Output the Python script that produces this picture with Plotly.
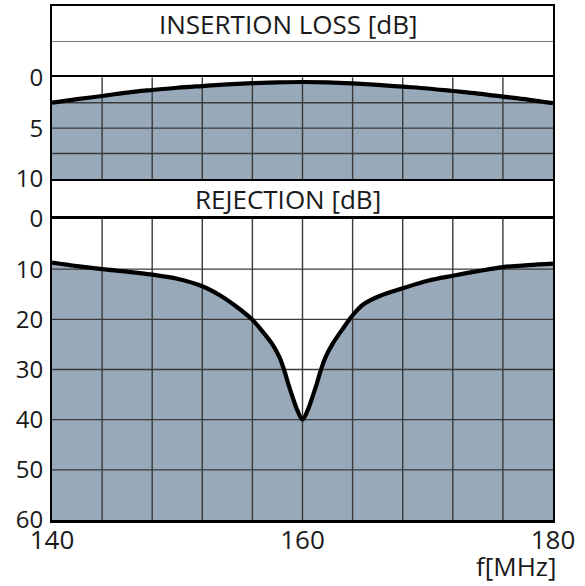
import plotly.graph_objects as go
from plotly.subplots import make_subplots

# ---- data ----
freq_il = [140, 142, 144, 146, 148, 150, 152, 154, 156, 158, 160,
           162, 164, 166, 168, 170, 172, 174, 176, 178, 180]
insertion_loss = [2.5, 2.15, 1.84, 1.5, 1.25, 1.03, 0.86, 0.7, 0.58, 0.5, 0.46,
                  0.5, 0.6, 0.74, 0.92, 1.1, 1.35, 1.6, 1.9, 2.2, 2.55]

freq_rej = [140, 142, 144, 146, 148, 150, 152, 153.4, 154.74, 156, 156.7, 157.6,
            158.15, 158.52, 158.87, 159.21, 159.6, 160, 160.4, 160.79, 161.13,
            161.48, 161.85, 162.4, 163.13, 164.0, 164.87, 166.2, 168,
            170, 172, 174, 176, 178, 180]
rejection = [8.7, 9.4, 10.0, 10.5, 11.1, 11.9, 13.4, 15.2, 17.5, 20.1, 22.1, 25.0,
             27.5, 30.0, 32.9, 35.5, 38.2, 40.0, 38.2, 35.5, 32.9,
             30.0, 27.5, 24.9, 22.2, 19.2, 17.0, 15.3, 13.8,
             12.3, 11.3, 10.4, 9.6, 9.2, 8.9]

x_grid = [140, 144, 148, 152, 156, 160, 164, 168, 172, 176, 180]
x_labels = ["140", "", "", "", "", "160", "", "", "", "", "180"]
il_ticks = [0, 2.5, 5, 7.5, 10]
il_labels = ["0", "", "5", "", "10"]
rej_ticks = [0, 10, 20, 30, 40, 50, 60]
rej_labels = ["0", "10", "20", "30", "40", "50", "60"]

title_il = "INSERTION LOSS [dB]"
title_rej = "REJECTION [dB]"
x_title = "f[MHz]"

FILL = "#98a9ba"
GRID = "#3a3a3a"
FONT = "Open Sans"
TXT = "#1a1a1a"
SMOOTH = 1.0

fig = make_subplots(rows=4, cols=1, shared_xaxes=True, vertical_spacing=0,
                    row_heights=[71.3, 101.7, 40, 301])

# invisible traces so the header subplots are drawn
for r in (1, 3):
    fig.add_trace(go.Scatter(x=[x_grid[0], x_grid[-1]], y=[0.5, 0.5], mode="lines",
                             line=dict(width=0), opacity=0, hoverinfo="skip",
                             showlegend=False), row=r, col=1)


def add_panel(row, freqs, vals, y_ticks, bottom):
    xmin, xmax = x_grid[0], x_grid[-1]
    fig.add_trace(go.Scatter(x=freqs, y=[bottom] * len(freqs), mode="lines",
                             line=dict(width=0, color=FILL), hoverinfo="skip",
                             showlegend=False), row=row, col=1)
    fig.add_trace(go.Scatter(x=freqs, y=vals, mode="lines", fill="tonexty",
                             fillcolor=FILL,
                             line=dict(width=0, shape="spline", smoothing=SMOOTH),
                             hoverinfo="skip", showlegend=False), row=row, col=1)
    gx, gy = [], []
    for xv in x_grid[1:-1]:
        gx += [xv, xv, None]
        gy += [y_ticks[0], y_ticks[-1], None]
    for yv in y_ticks[1:-1]:
        gx += [xmin, xmax, None]
        gy += [yv, yv, None]
    fig.add_trace(go.Scatter(x=gx, y=gy, mode="lines", line=dict(color=GRID, width=1.4),
                             hoverinfo="skip", showlegend=False), row=row, col=1)
    fig.add_trace(go.Scatter(x=freqs, y=vals, mode="lines",
                             line=dict(color="black", width=4.2, shape="spline",
                                       smoothing=SMOOTH),
                             hoverinfo="skip", showlegend=False), row=row, col=1)


add_panel(2, freq_il, insertion_loss, il_ticks, il_ticks[-1])
add_panel(4, freq_rej, rejection, rej_ticks, rej_ticks[-1])

base = dict(linecolor="black", zeroline=False, ticks="", automargin=False)
xr = [x_grid[0], x_grid[-1]]
# x axes: only the needed horizontal borders
fig.update_xaxes(range=xr, showgrid=False, showline=True, side="top", mirror=False,
                 linewidth=2, row=1, col=1, **base)
fig.update_xaxes(range=xr, showgrid=False, showline=True, mirror=True,
                 linewidth=2, row=2, col=1, **base)
fig.update_xaxes(range=xr, showgrid=False, showline=False, row=3, col=1, **base)
fig.update_xaxes(range=xr, showgrid=False, showline=True, mirror=True, linewidth=2.5,
                 tickvals=x_grid, ticktext=x_labels, showticklabels=True,
                 ticklabelstandoff=-5,
                 tickfont=dict(family=FONT, size=26, color=TXT), row=4, col=1, **base)

# y axes: vertical borders on both sides
fig.update_yaxes(range=[0, 1], tickvals=[0.5], showticklabels=False, showgrid=True,
                 gridcolor="#777777", gridwidth=1.2, showline=True, mirror=True,
                 linewidth=2, row=1, col=1, **base)
fig.update_yaxes(range=[0, 1], showticklabels=False, showgrid=False, showline=True,
                 mirror=True, linewidth=2, row=3, col=1, **base)
fig.update_yaxes(range=[il_ticks[-1], il_ticks[0]], tickvals=il_ticks, ticktext=il_labels,
                 showgrid=False, tickfont=dict(family=FONT, size=24, color=TXT),
                 ticklabelstandoff=2, showline=True, mirror=True, linewidth=2,
                 row=2, col=1, **base)
fig.update_yaxes(range=[rej_ticks[-1], rej_ticks[0]], tickvals=rej_ticks, ticktext=rej_labels,
                 showgrid=False, tickfont=dict(family=FONT, size=24, color=TXT),
                 ticklabelstandoff=2, showline=True, mirror=True, linewidth=2,
                 row=4, col=1, **base)

fig.add_annotation(text=title_il, xref="x domain", yref="y domain", x=0.472, y=0.75,
                   xanchor="center", yanchor="middle",
                   showarrow=False, font=dict(family=FONT, size=26, color=TXT))
fig.add_annotation(text=title_rej, xref="x3 domain", yref="y3 domain", x=0.472, y=0.5,
                   xanchor="center", yanchor="middle",
                   showarrow=False, font=dict(family=FONT, size=26, color=TXT))
fig.add_annotation(text=x_title, xref="paper", yref="paper", x=1, y=0,
                   xanchor="right", yanchor="middle", xshift=6, yshift=-46,
                   showarrow=False, font=dict(family=FONT, size=26, color=TXT))

fig.update_layout(width=585, height=586, margin=dict(l=52, r=32, t=6, b=66, pad=0),
                  plot_bgcolor="white", paper_bgcolor="white", showlegend=False)

fig.write_html("out.html", config={"displayModeBar": False},
               post_script="document.body.style.margin='0';")
